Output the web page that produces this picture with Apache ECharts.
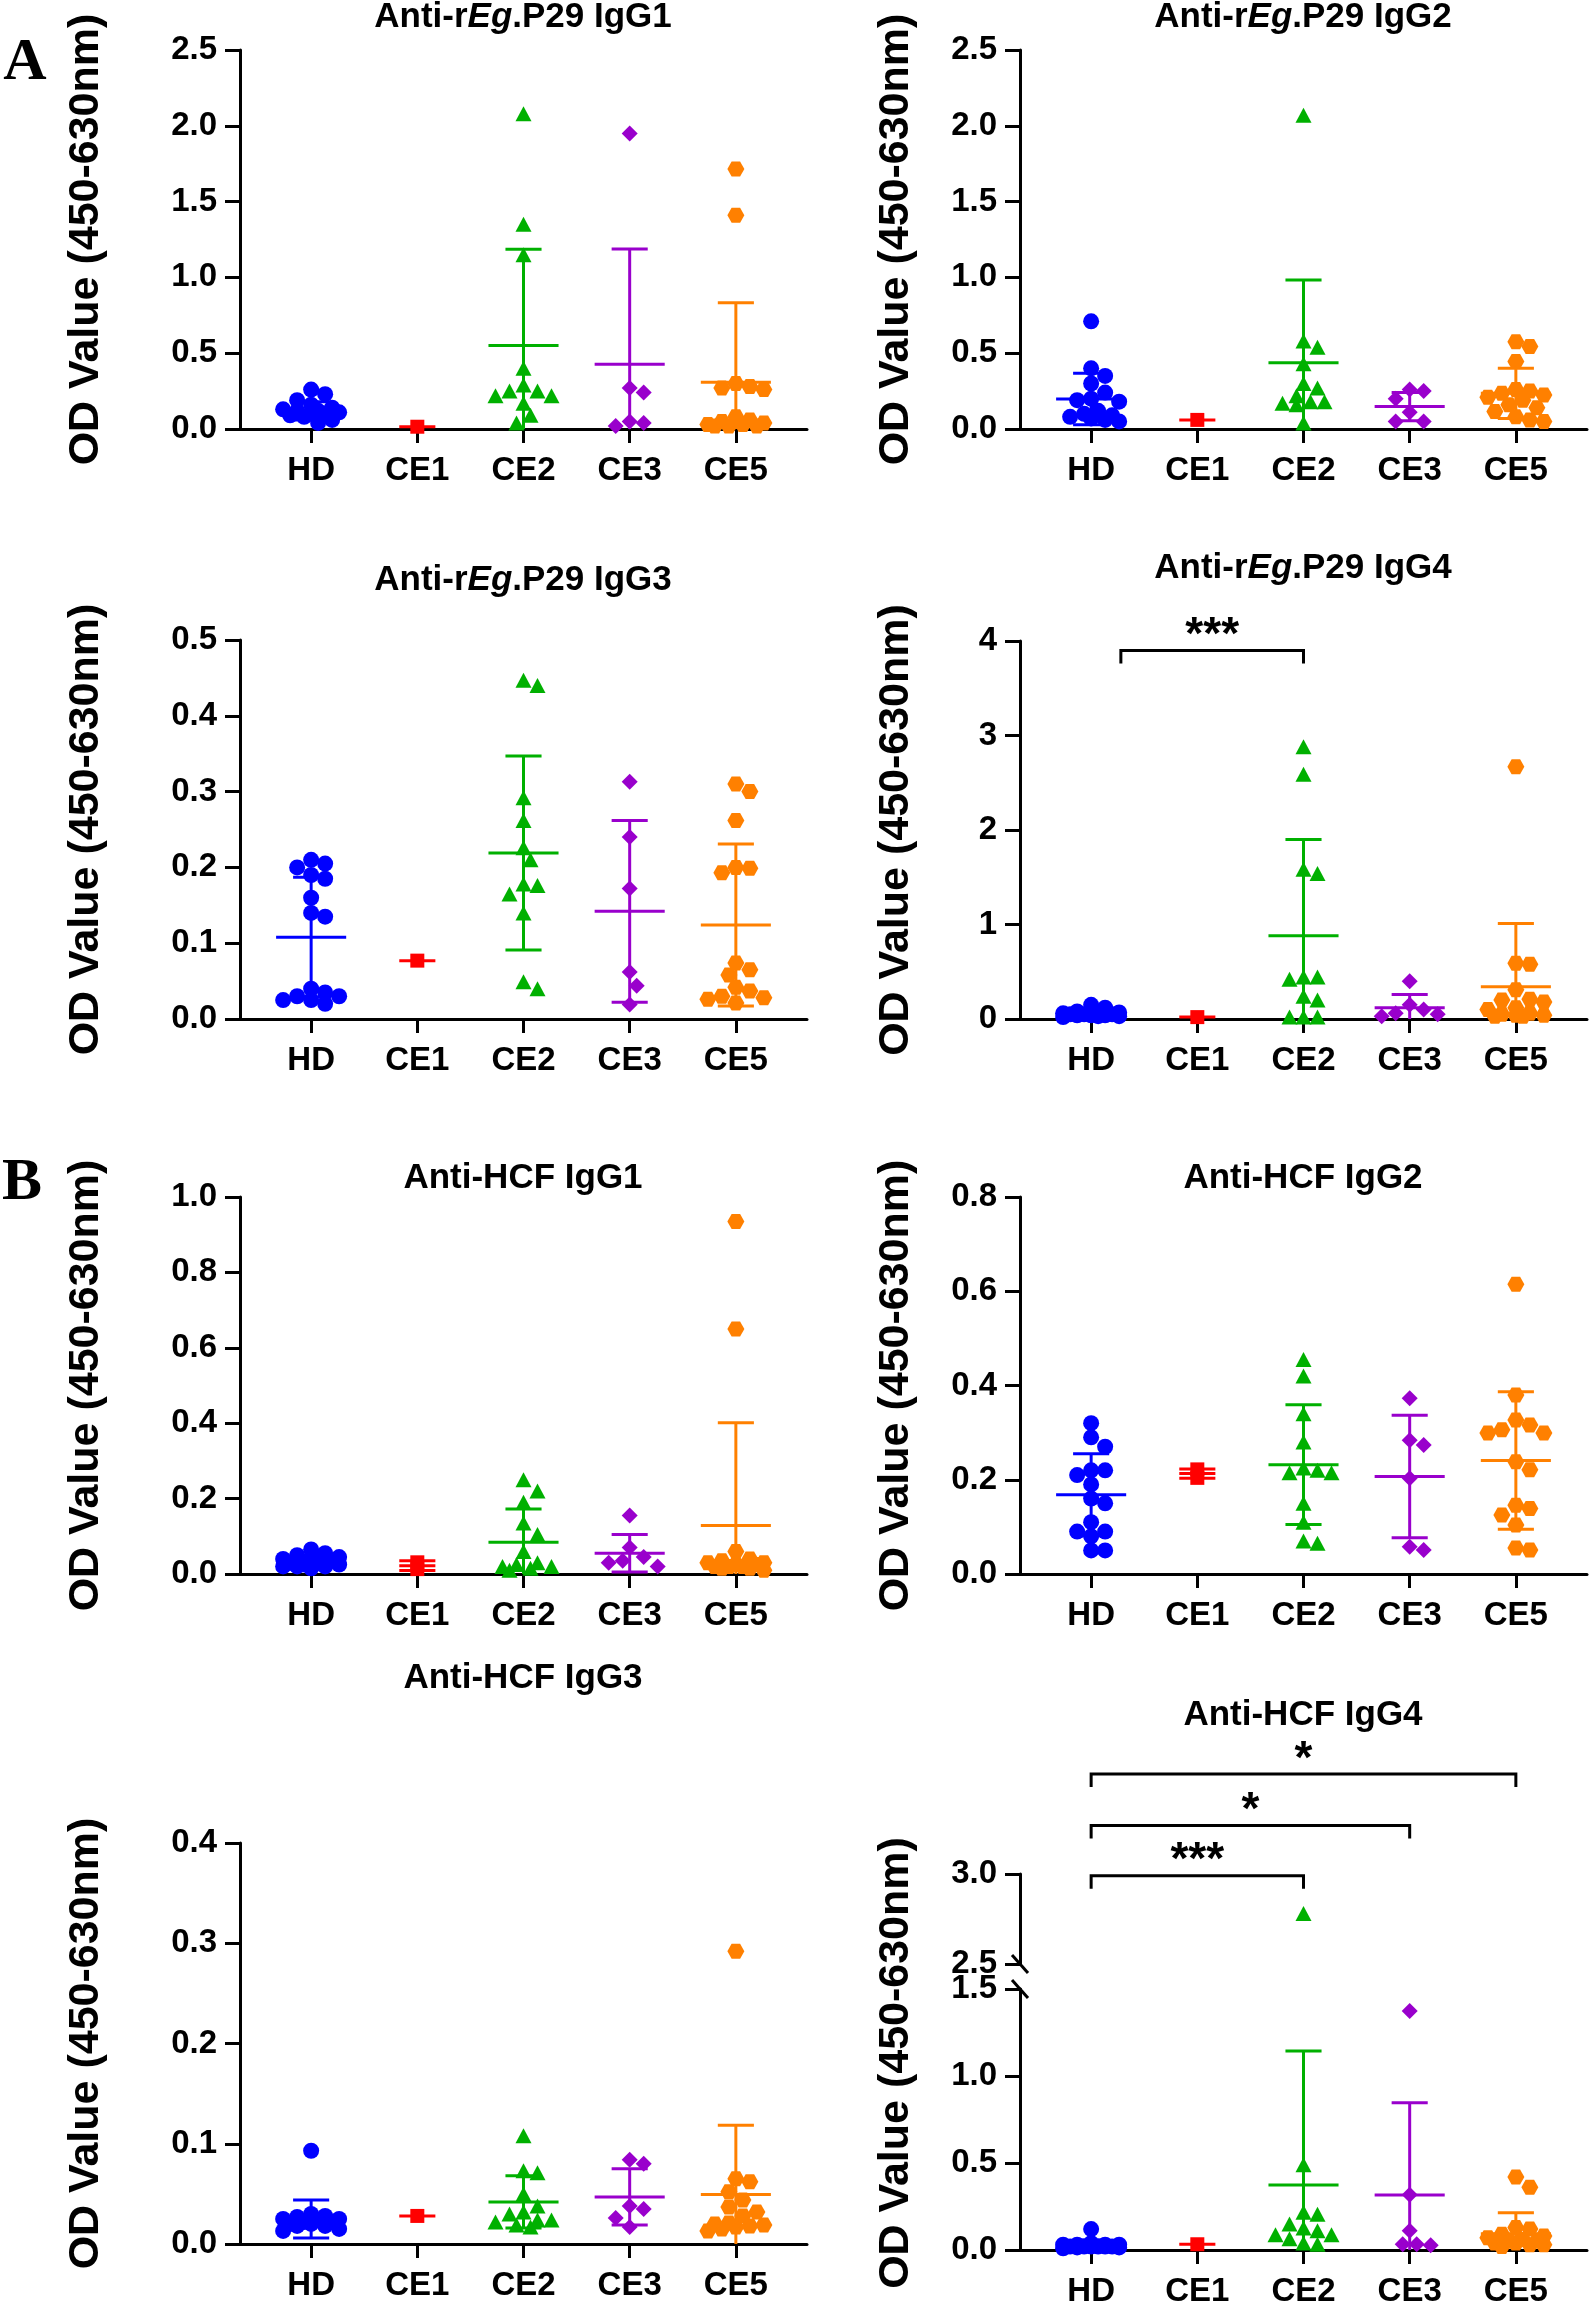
<!DOCTYPE html>
<html>
<head>
<meta charset="utf-8">
<script src="https://cdn.jsdelivr.net/npm/echarts@6/dist/echarts.min.js"></script>
<style>
html, body { margin: 0; padding: 0; background: #fff; }
#chart { width: 1593px; height: 2308px; }
</style>
</head>
<body>
<div id="chart"></div>
<script>
// groups on the x axis
const groups = ['HD', 'CE1', 'CE2', 'CE3', 'CE5'];

// A  anti-rEg.P29, OD values per group [HD, CE1, CE2, CE3, CE5]
const p29G1 = [
  [0.26, 0.23, 0.19, 0.16, 0.14, 0.13, 0.12, 0.12, 0.11, 0.10, 0.10, 0.09, 0.08, 0.06, 0.04],
  [0.015],
  [2.08, 1.35, 1.15, 0.40, 0.29, 0.25, 0.25, 0.22, 0.22, 0.17, 0.09, 0.04],
  [1.95, 0.27, 0.24, 0.05, 0.04, 0.02],
  [1.715, 1.41, 0.30, 0.28, 0.27, 0.26, 0.08, 0.06, 0.05, 0.04, 0.03, 0.03, 0.02, 0.02, 0.02]
];
const p29G1Mean = [0.12, 0.015, 0.55, 0.427, 0.308];
const p29G1Sd = [0.06, 0, 0.635, 0.76, 0.525];

const p29G2 = [
  [0.71, 0.40, 0.35, 0.30, 0.24, 0.20, 0.19, 0.18, 0.12, 0.10, 0.09, 0.08, 0.07, 0.06, 0.05],
  [0.06],
  [2.07, 0.58, 0.54, 0.43, 0.30, 0.27, 0.22, 0.18, 0.18, 0.17, 0.16, 0.04],
  [0.26, 0.25, 0.20, 0.11, 0.05, 0.05],
  [0.575, 0.545, 0.445, 0.26, 0.25, 0.235, 0.225, 0.21, 0.19, 0.16, 0.14, 0.115, 0.08, 0.06, 0.05]
];
const p29G2Mean = [0.198, 0.06, 0.437, 0.148, 0.235];
const p29G2Sd = [0.17, 0, 0.546, 0.093, 0.165];

const p29G3 = [
  [0.21, 0.205, 0.20, 0.19, 0.185, 0.16, 0.14, 0.135, 0.04, 0.035, 0.03, 0.03, 0.025, 0.025, 0.02],
  [0.077],
  [0.447, 0.44, 0.292, 0.262, 0.226, 0.21, 0.178, 0.176, 0.165, 0.14, 0.049, 0.04],
  [0.313, 0.24, 0.172, 0.062, 0.044, 0.019],
  [0.31, 0.30, 0.262, 0.20, 0.199, 0.193, 0.074, 0.065, 0.058, 0.042, 0.037, 0.03, 0.028, 0.026, 0.021]
];
const p29G3Mean = [0.108, 0.077, 0.219, 0.142, 0.124];
const p29G3Sd = [0.079, 0, 0.128, 0.12, 0.107];

const p29G4 = [
  [0.15, 0.12, 0.08, 0.07, 0.06, 0.06, 0.05, 0.05, 0.05, 0.04, 0.04, 0.04, 0.03, 0.03, 0.02],
  [0.02],
  [2.88, 2.59, 1.585, 1.54, 0.445, 0.445, 0.42, 0.24, 0.20, 0.02, 0.02, 0.02],
  [0.40, 0.15, 0.10, 0.06, 0.05, 0.03],
  [2.67, 0.59, 0.58, 0.31, 0.21, 0.20, 0.18, 0.12, 0.10, 0.06, 0.05, 0.04, 0.04, 0.03, 0.03]
];
const p29G4Mean = [0.058, 0.02, 0.88, 0.12, 0.34];
const p29G4Sd = [0.035, 0, 1.02, 0.14, 0.67];
// significance: [from, to, level, label]
const p29G4Sig = [[0.28, 2, 3.9, '***']];

// B  anti-HCF
const hcfG1 = [
  [0.065, 0.055, 0.05, 0.045, 0.04, 0.035, 0.035, 0.03, 0.03, 0.025, 0.025, 0.02, 0.02, 0.02, 0.015],
  [0.031, 0.013],
  [0.25, 0.22, 0.19, 0.135, 0.105, 0.06, 0.03, 0.025, 0.02, 0.02, 0.015, 0.01],
  [0.155, 0.07, 0.045, 0.035, 0.03, 0.02],
  [0.935, 0.65, 0.06, 0.04, 0.035, 0.03, 0.03, 0.025, 0.025, 0.02, 0.02, 0.02, 0.015, 0.015, 0.01]
];
const hcfG1Mean = [0.034, 0.022, 0.0845, 0.055, 0.1285];
const hcfG1Sd = [0.015, 0.013, 0.088, 0.05, 0.273];

const hcfG2 = [
  [0.32, 0.29, 0.27, 0.22, 0.22, 0.21, 0.19, 0.16, 0.15, 0.11, 0.09, 0.09, 0.08, 0.05, 0.05],
  [0.222, 0.204],
  [0.455, 0.42, 0.34, 0.28, 0.225, 0.22, 0.215, 0.215, 0.15, 0.11, 0.07, 0.065],
  [0.373, 0.284, 0.274, 0.203, 0.058, 0.051],
  [0.615, 0.38, 0.327, 0.316, 0.306, 0.299, 0.299, 0.238, 0.221, 0.146, 0.139, 0.125, 0.104, 0.055, 0.051]
];
const hcfG2Mean = [0.168, 0.213, 0.232, 0.207, 0.241];
const hcfG2Sd = [0.087, 0.01, 0.127, 0.13, 0.146];

const hcfG3 = [
  [0.093, 0.03, 0.028, 0.027, 0.025, 0.025, 0.024, 0.022, 0.022, 0.02, 0.02, 0.018, 0.018, 0.015, 0.013],
  [0.028],
  [0.108, 0.073, 0.071, 0.05, 0.038, 0.032, 0.03, 0.024, 0.024, 0.022, 0.019, 0.017],
  [0.084, 0.08, 0.038, 0.035, 0.026, 0.017],
  [0.292, 0.065, 0.062, 0.052, 0.044, 0.037, 0.032, 0.028, 0.021, 0.02, 0.019, 0.018, 0.017, 0.015, 0.013]
];
const hcfG3Mean = [0.025, 0.028, 0.042, 0.047, 0.0495];
const hcfG3Sd = [0.019, 0, 0.026, 0.028, 0.069];

const hcfG4 = [
  [0.12, 0.04, 0.03, 0.03, 0.03, 0.03, 0.02, 0.02, 0.02, 0.02, 0.02, 0.02, 0.015, 0.015, 0.01],
  [0.033],
  [2.78, 0.49, 0.217, 0.205, 0.15, 0.127, 0.11, 0.087, 0.087, 0.064, 0.04, 0.033],
  [1.373, 0.318, 0.11, 0.033, 0.033, 0.028],
  [0.42, 0.36, 0.13, 0.12, 0.09, 0.08, 0.07, 0.06, 0.05, 0.05, 0.04, 0.04, 0.03, 0.03, 0.02]
];
const hcfG4Mean = [0.03, 0.033, 0.373, 0.316, 0.094];
const hcfG4Sd = [0.027, 0, 0.77, 0.53, 0.12];
const hcfG4Sig = [[0, 2, 2.99, '***'], [0, 3, 3.27, '*'], [0, 4, 3.556, '*']];

// looks
const FONT = '"Liberation Sans", Arial, Helvetica, sans-serif';
const colors = ['#0000ff', '#ff0000', '#00b000', '#9900cc', '#ff8000'];
const HEX = 'path://M-10,0 L-5,-8.66 L5,-8.66 L10,0 L5,8.66 L-5,8.66 Z';
const symbols = ['circle', 'rect', 'triangle', 'diamond', HEX];
const sizes = [16, 14, [16, 15], 16, [17, 15]];
const W = 567, XMIN = -0.67, XMAX = 4.67;

const panels = [
  { title: 'Anti-r{i|Eg}.P29 IgG1', vals: p29G1, mean: p29G1Mean, sd: p29G1Sd, max: 2.5, step: 0.5, dec: 1, left: 240, top: 50, h: 379, tx: 523, ty: 17 },
  { title: 'Anti-r{i|Eg}.P29 IgG2', vals: p29G2, mean: p29G2Mean, sd: p29G2Sd, max: 2.5, step: 0.5, dec: 1, left: 1020, top: 50, h: 379, tx: 1303, ty: 17 },
  { title: 'Anti-r{i|Eg}.P29 IgG3', vals: p29G3, mean: p29G3Mean, sd: p29G3Sd, max: 0.5, step: 0.1, dec: 1, left: 240, top: 640, h: 379, tx: 523, ty: 580 },
  { title: 'Anti-r{i|Eg}.P29 IgG4', vals: p29G4, mean: p29G4Mean, sd: p29G4Sd, max: 4, step: 1, dec: 0, left: 1020, top: 641, h: 378, tx: 1303, ty: 568, sig: p29G4Sig },
  { title: 'Anti-HCF IgG1', vals: hcfG1, mean: hcfG1Mean, sd: hcfG1Sd, max: 1.0, step: 0.2, dec: 1, left: 240, top: 1197, h: 377, tx: 523, ty: 1178 },
  { title: 'Anti-HCF IgG2', vals: hcfG2, mean: hcfG2Mean, sd: hcfG2Sd, max: 0.8, step: 0.2, dec: 1, left: 1020, top: 1197, h: 377, tx: 1303, ty: 1178 },
  { title: 'Anti-HCF IgG3', vals: hcfG3, mean: hcfG3Mean, sd: hcfG3Sd, max: 0.4, step: 0.1, dec: 1, left: 240, top: 1843, h: 401, tx: 523, ty: 1678 },
  { title: 'Anti-HCF IgG4', vals: hcfG4, mean: hcfG4Mean, sd: hcfG4Sd, max: 1.5, step: 0.5, dec: 1, left: 1020, top: 1989, h: 263, tx: 1303, ty: 1715,
    brk: { min: 2.5, max: 3.0, step: 0.5, top: 1874, h: 90 }, sig: hcfG4Sig }
];

const axisLine = { color: '#000', width: 3 };
const option = { animation: false, backgroundColor: '#fff', grid: [], xAxis: [], yAxis: [], series: [], graphic: [] };

function addGrid(left, top, h, yMin, yMax, step, dec, showX) {
  const i = option.grid.length;
  option.grid.push({ left: left, top: top, width: W, height: h });
  option.xAxis.push({
    gridIndex: i, type: 'value', min: XMIN, max: XMAX, show: showX,
    axisLine: { onZero: false, lineStyle: axisLine },
    axisTick: { customValues: [0, 1, 2, 3, 4], length: 14, lineStyle: axisLine },
    axisLabel: { customValues: [0, 1, 2, 3, 4], formatter: v => groups[Math.round(v)], margin: 25,
      color: '#000', fontSize: 33, fontWeight: 'bold', fontFamily: FONT },
    splitLine: { show: false }
  });
  option.yAxis.push({
    gridIndex: i, type: 'value', min: yMin, max: yMax, interval: step,
    axisLine: { show: true, onZero: false, lineStyle: axisLine },
    axisTick: { show: true, length: 15, lineStyle: axisLine },
    axisLabel: { formatter: v => v.toFixed(dec), margin: 23, color: '#000', fontSize: 33, fontWeight: 'bold', fontFamily: FONT },
    splitLine: { show: false }
  });
  return i;
}

// spread points sideways so they do not sit on each other
function swarm(vals, pxY, maxOff) {
  const pxX = W / (XMAX - XMIN), D = 14, step = 7;
  const placed = [], out = new Array(vals.length);
  const order = vals.map((v, i) => i).sort((a, b) => vals[b] - vals[a]);
  order.forEach(idx => {
    const yp = vals[idx] * pxY;
    let best = 0, bestScore = -1;
    outer:
    for (let k = 0; k * step <= maxOff; k++) {
      for (const s of (k === 0 ? [1] : [1, -1])) {
        const xp = s * k * step;
        let md = Infinity;
        placed.forEach(p => { md = Math.min(md, Math.hypot(p.x - xp, p.y - yp)); });
        if (md >= D) { best = xp; break outer; }
        if (md > bestScore) { bestScore = md; best = xp; }
      }
    }
    placed.push({ x: best, y: yp });
    out[idx] = best / pxX;
  });
  return out;
}

function addPoints(gi, g, vals, pxY) {
  if (!vals.length) return;
  const offs = swarm(vals, pxY, g === 1 ? 0 : 34);
  option.series.push({
    type: 'scatter', xAxisIndex: gi, yAxisIndex: gi, silent: true, z: 2,
    symbol: symbols[g], symbolSize: sizes[g],
    itemStyle: { color: colors[g], opacity: 1, borderWidth: 0 },
    data: vals.map((v, k) => [g + offs[k], v])
  });
}

function errRender(params, api) {
  const x = api.value(0), m = api.value(1), sd = api.value(2), hw = api.value(3), lo = api.value(4);
  const style = { stroke: api.visual('color'), lineWidth: 3, fill: null };
  const seg = (a, b) => ({ type: 'line', shape: { x1: a[0], y1: a[1], x2: b[0], y2: b[1] }, style: style });
  const kids = [seg(api.coord([x - hw, m]), api.coord([x + hw, m]))];
  if (sd > 0) {
    const capW = 0.17;
    kids.push(seg(api.coord([x, m + sd]), api.coord([x, Math.max(m - sd, lo)])));
    kids.push(seg(api.coord([x - capW, m + sd]), api.coord([x + capW, m + sd])));
    if (m - sd > lo) kids.push(seg(api.coord([x - capW, m - sd]), api.coord([x + capW, m - sd])));
  }
  return { type: 'group', children: kids };
}

function addErrors(gi, mean, sd, lo) {
  option.series.push({
    type: 'custom', xAxisIndex: gi, yAxisIndex: gi, silent: true, z: 5, renderItem: errRender,
    data: mean.map((m, g) => ({ value: [g, m, sd[g], g === 1 ? 0.17 : 0.33, lo], itemStyle: { color: colors[g] } }))
  });
}

function addSig(gi, sig) {
  option.series.push({
    type: 'custom', xAxisIndex: gi, yAxisIndex: gi, silent: true, z: 6,
    renderItem: function (params, api) {
      const a = api.coord([api.value(0), api.value(2)]);
      const b = api.coord([api.value(1), api.value(2)]);
      return { type: 'group', children: [
        { type: 'polyline', shape: { points: [[a[0], a[1] + 13], a, b, [b[0], b[1] + 13]] },
          style: { stroke: '#000', lineWidth: 3, fill: null } },
        { type: 'text', x: (a[0] + b[0]) / 2, y: a[1] - 14,
          style: { text: sig[params.dataIndex][3], font: 'bold 46px ' + FONT, fill: '#000',
            align: 'center', verticalAlign: 'middle', textAlign: 'center', textVerticalAlign: 'middle' } }
      ] };
    },
    data: sig.map(s => [s[0], s[1], s[2]])
  });
}

function addText(x, y, text, font, rot, rich) {
  const el = { type: 'text', x: x, y: y, silent: true,
    style: { text: text, font: font, fill: '#000', align: 'center', verticalAlign: 'middle',
      textAlign: 'center', textVerticalAlign: 'middle' } };
  if (rot) el.rotation = rot;
  if (rich) el.style.rich = rich;
  option.graphic.push(el);
}

const italic = { i: { fontStyle: 'italic', fontWeight: 'bold', fontSize: 35, fontFamily: FONT, fill: '#000' } };

panels.forEach((p, pi) => {
  const gi = addGrid(p.left, p.top, p.h, 0, p.max, p.step, p.dec, true);
  const pxY = p.h / p.max;
  let up = -1;
  if (p.brk) {
    up = addGrid(p.left, p.brk.top, p.brk.h, p.brk.min, p.brk.max, p.brk.step, 1, false);
  }
  p.vals.forEach((vals, g) => {
    if (p.brk) {
      addPoints(gi, g, vals.filter(v => v < p.brk.min), pxY);
      addPoints(up, g, vals.filter(v => v >= p.brk.min), p.brk.h / (p.brk.max - p.brk.min));
    } else {
      addPoints(gi, g, vals, pxY);
    }
  });
  addErrors(gi, p.mean, p.sd, 0);
  if (p.sig) addSig(p.brk ? up : gi, p.sig);

  addText(p.tx, p.ty, p.title, 'bold 35px ' + FONT, 0, italic);
  const yTop = p.brk ? p.brk.top : p.top;
  const yMid = (yTop + p.top + p.h) / 2;
  addText(p.left < 600 ? 86 : 896, yMid, 'OD Value (450-630nm)', 'bold 43px ' + FONT, Math.PI / 2);
  if (p.brk) {
    const ax = p.left;
    const ya = p.brk.top + p.brk.h, yb = p.top;
    [ya, yb].forEach(yy => option.graphic.push({ type: 'line', silent: true,
      shape: { x1: ax - 8, y1: yy - 9, x2: ax + 8, y2: yy + 9 }, style: { stroke: '#000', lineWidth: 3 } }));
  }
});

addText(25, 63, 'A', 'bold 60px "Liberation Serif", "Times New Roman", serif', 0);
addText(22, 1183, 'B', 'bold 60px "Liberation Serif", "Times New Roman", serif', 0);

const chart = echarts.init(document.getElementById('chart'), null, { renderer: 'canvas' });
chart.setOption(option);
</script>
</body>
</html>
